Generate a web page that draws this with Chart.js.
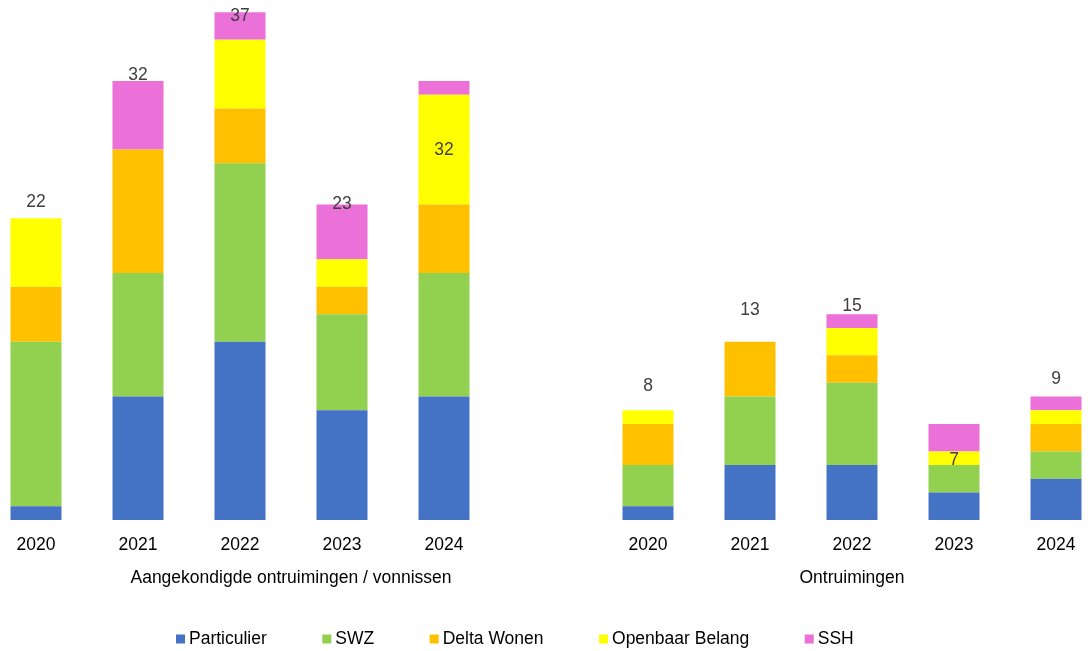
<!DOCTYPE html>
<html>
<head>
<meta charset="utf-8">
<script src="https://cdn.jsdelivr.net/npm/chart.js@4/dist/chart.umd.min.js"></script>
<style>
  html, body { margin: 0; padding: 0; background: #fff; overflow: hidden; }
  #wrap { position: absolute; left: -15px; top: 0; width: 1122px; height: 651px; }
</style>
</head>
<body>
<div id="wrap"><canvas id="ontruimingenChart"></canvas></div>
<script>
// categories: two groups of years, with an empty slot between them
var categories = ['2020', '2021', '2022', '2023', '2024', '', '2020', '2021', '2022', '2023', '2024'];
var groupTitles = ['Aangekondigde ontruimingen / vonnissen', 'Ontruimingen'];

var seriesNames = ['Particulier', 'SWZ', 'Delta Wonen', 'Openbaar Belang', 'SSH'];
var particulier    = [1, 9, 13, 8, 9, null, 1, 4, 4, 2, 3];
var swz            = [12, 9, 13, 7, 9, null, 3, 5, 6, 2, 2];
var deltaWonen     = [4, 9, 4, 2, 5, null, 3, 4, 2, 0, 2];
var openbaarBelang = [5, 0, 5, 2, 8, null, 1, 0, 2, 1, 1];
var ssh            = [0, 5, 2, 4, 1, null, 0, 0, 1, 2, 1];

var colors = ['#4472C4', '#92D050', '#FFC000', '#FFFF00', '#EB70D8'];
var FONT = '"Liberation Sans", Arial, sans-serif';

var seriesValues = [particulier, swz, deltaWonen, openbaarBelang, ssh];
var totals = categories.map(function (c, i) {
    if (particulier[i] == null) return null;
    return seriesValues.reduce(function (s, arr) { return s + arr[i]; }, 0);
});

// totals above the stacks, group titles under the years, and the legend
var extrasPlugin = {
    id: 'extras',
    afterDraw: function (chart, args, opts) {
        var ctx = chart.ctx;
        var xs = chart.scales.x, ys = chart.scales.y;
        var area = chart.chartArea;
        ctx.save();
        ctx.font = '17.5px ' + FONT;
        ctx.textBaseline = 'middle';

        // total labels
        ctx.textAlign = 'center';
        ctx.fillStyle = '#404040';
        totals.forEach(function (t, i) {
            if (t == null) return;
            var top = ys.getPixelForValue(t);
            ctx.fillText(String(t), xs.getPixelForValue(i), top - opts.labelShift[i]);
        });

        // group titles, centred on the span of each group
        ctx.fillStyle = '#000';
        opts.groupSpans.forEach(function (span, g) {
            var cx = (xs.getPixelForValue(span[0]) + xs.getPixelForValue(span[1])) / 2;
            ctx.fillText(groupTitles[g], cx, area.bottom + opts.titleOffset);
        });

        // legend
        ctx.textAlign = 'left';
        var lx = opts.legendLeft;
        var ly = area.bottom + opts.legendOffset;
        chart.data.datasets.forEach(function (ds) {
            ctx.fillStyle = ds.backgroundColor;
            ctx.fillRect(lx, ly - 4.5, 9, 9);
            ctx.fillStyle = '#000';
            ctx.fillText(ds.label, lx + 13, ly);
            lx += 13 + ctx.measureText(ds.label).width + 55.5;
        });
        ctx.restore();
    }
};

var ctx = document.getElementById('ontruimingenChart').getContext('2d');

var chart = new Chart(ctx, {
    type: 'bar',
    data: {
        labels: categories,
        datasets: seriesValues.map(function (vals, k) {
            return {
                label: seriesNames[k],
                data: vals,
                backgroundColor: colors[k],
                borderWidth: 0,
                barPercentage: 0.5,
                categoryPercentage: 1.0
            };
        })
    },
    options: {
        responsive: true,
        maintainAspectRatio: false,
        animation: false,
        layout: { padding: 0 },
        plugins: {
            legend: { display: false },
            tooltip: { enabled: false },
            extras: {
                labelShift: [16, 6, -4, 0, -69, null, 24, 31, 8, -36, 17],
                groupSpans: [[0, 5], [6, 10]],
                titleOffset: 58,
                legendOffset: 119,
                legendLeft: 191
            }
        },
        scales: {
            x: {
                stacked: true,
                grid: { display: false, drawTicks: false },
                border: { display: false },
                ticks: {
                    color: '#000',
                    font: { family: FONT, size: 17.5 },
                    padding: 15,
                    maxRotation: 0,
                    autoSkip: false
                },
                afterFit: function (scale) { scale.height = 131; }
            },
            y: {
                stacked: true,
                display: false,
                min: 0,
                max: 37.9
            }
        }
    },
    plugins: [extrasPlugin]
});
</script>
</body>
</html>
